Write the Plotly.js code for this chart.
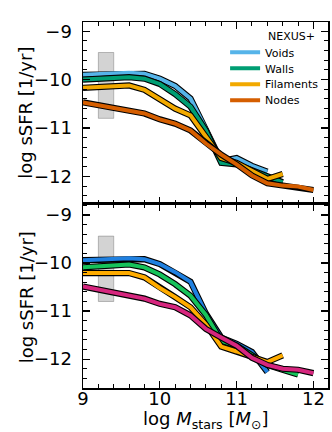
<!DOCTYPE html>
<html><head><meta charset="utf-8">
<script src="https://cdn.plot.ly/plotly-3.0.1.min.js"></script>
<style>html,body{margin:0;padding:0;background:#fff}#chart{width:332px;height:432px}</style>
</head><body><div id="chart"></div>
<script>
const logMass = [9.0, 9.2, 9.4, 9.6, 9.8, 10.0, 10.2, 10.4, 10.6, 10.8, 11.0, 11.2, 11.4, 11.6, 11.8, 12.0];
const seriesNames = ["Voids", "Walls", "Filaments", "Nodes"];

// Top panel
const voidsTop     = [-9.90, -9.89, -9.88, -9.86, -9.88, -9.98, -10.13, -10.39, -11.02, -11.68, -11.62, -11.78, -11.90];
const wallsTop     = [-10.00, -9.98, -9.96, -9.95, -9.98, -10.09, -10.30, -10.56, -11.05, -11.72, -11.75, -11.88, -12.00, -12.12];
const filamentsTop = [-10.17, -10.15, -10.13, -10.12, -10.21, -10.40, -10.60, -10.74, -11.18, -11.62, -11.72, -11.88, -12.05, -11.95];
const nodesTop     = [-10.47, -10.53, -10.58, -10.64, -10.70, -10.82, -10.91, -11.05, -11.32, -11.55, -11.75, -11.98, -12.14, -12.19, -12.21, -12.28];

// Bottom panel
const voidsBot     = [-9.94, -9.93, -9.91, -9.90, -9.92, -10.02, -10.19, -10.39, -11.05, -11.55, -11.68, -11.85, -12.27];
const wallsBot     = [-10.09, -10.07, -10.05, -10.03, -10.09, -10.24, -10.44, -10.68, -11.08, -11.62, -11.72, -11.92, -12.12, -12.22, -12.32];
const filamentsBot = [-10.21, -10.21, -10.21, -10.21, -10.30, -10.52, -10.71, -10.92, -11.28, -11.74, -11.84, -11.96, -12.06, -11.92];
const nodesBot     = [-10.49, -10.55, -10.61, -10.66, -10.74, -10.85, -10.92, -11.09, -11.37, -11.55, -11.72, -11.97, -12.12, -12.20, -12.22, -12.29];

const colorsTop = ["#56B4E9", "#009E73", "#F2A900", "#D55E00"];
const colorsBot = ["#1F80E0", "#16C35A", "#FFAC00", "#D6267E"];

const bandX = [9.2, 9.4];
const bandY = [-10.80, -9.44];

const xTicks = [9, 10, 11, 12];

const FONT = "DejaVu Sans, Arial, sans-serif";
const legendIds = ["legend", "legend2", "legend3", "legend4"];
const traces = [];
function addPanel(seriesList, colors, xa, ya, legend) {
  seriesList.forEach((ys, i) => {
    const xs = logMass.slice(0, ys.length);
    traces.push({x: xs, y: ys, xaxis: xa, yaxis: ya, mode: "lines", type: "scatter",
      line: {color: "black", width: 6.2}, showlegend: false, hoverinfo: "skip"});
    traces.push({x: xs, y: ys, xaxis: xa, yaxis: ya, mode: "lines", type: "scatter",
      name: seriesNames[i], line: {color: colors[i], width: 4}, showlegend: legend,
      legend: legendIds[i]});
  });
}
addPanel([voidsTop, wallsTop, filamentsTop, nodesTop], colorsTop, "x2", "y", true);
addPanel([voidsBot, wallsBot, filamentsBot, nodesBot], colorsBot, "x", "y2", false);

const axBase = {
  showline: true, linecolor: "black", linewidth: 1.5, mirror: "allticks",
  ticks: "inside", ticklen: 7, tickwidth: 1.2, tickcolor: "black",
  showgrid: false, zeroline: false,
  tickfont: {family: FONT, size: 18, color: "black"},
  minor: {ticks: "inside", ticklen: 4, tickwidth: 1, tickcolor: "black", dtick: 0.2, showgrid: false}
};
const xRange = [9, 12.19];
const legBase = {x: 0.58, xanchor: "left", yanchor: "middle", bgcolor: "rgba(0,0,0,0)",
  font: {family: FONT, size: 11, color: "black"}, itemwidth: 30};
const legCenters = [0.9174, 0.8737, 0.8301, 0.7864];
const yTitle = "log sSFR [1/yr]";
const layout = {
  width: 332, height: 432,
  margin: {l: 83, r: 4, t: 22, b: 44},
  paper_bgcolor: "white", plot_bgcolor: "white",
  font: {family: FONT, color: "black"},
  showlegend: true,
  xaxis: Object.assign({}, axBase, {domain: [0, 1], range: xRange, anchor: "y2", tickmode: "array", tickvals: xTicks,
    ticklabelstandoff: -6}),
  xaxis2: Object.assign({}, axBase, {domain: [0, 1], range: xRange, anchor: "y", tickmode: "array", tickvals: xTicks, showticklabels: false}),
  yaxis: Object.assign({}, axBase, {domain: [0.504, 1], range: [-12.56, -8.81], anchor: "x2", tickmode: "linear", tick0: 0, dtick: 1,
    ticklabelstandoff: 6}),
  yaxis2: Object.assign({}, axBase, {domain: [0, 0.503], range: [-12.6, -8.77], anchor: "x", tickmode: "linear", tick0: 0, dtick: 1,
    ticklabelstandoff: 6}),
  legend: Object.assign({}, legBase, {y: legCenters[0]}),
  legend2: Object.assign({}, legBase, {y: legCenters[1]}),
  legend3: Object.assign({}, legBase, {y: legCenters[2]}),
  legend4: Object.assign({}, legBase, {y: legCenters[3]}),
  shapes: [
    {type: "rect", xref: "x2", yref: "y", x0: bandX[0], x1: bandX[1], y0: bandY[0], y1: bandY[1],
      fillcolor: "rgba(128,128,128,0.35)", line: {color: "rgba(110,110,110,0.45)", width: 1}, layer: "below"},
    {type: "rect", xref: "x", yref: "y2", x0: bandX[0], x1: bandX[1], y0: bandY[0], y1: bandY[1],
      fillcolor: "rgba(128,128,128,0.35)", line: {color: "rgba(110,110,110,0.45)", width: 1}, layer: "below"}
  ],
  annotations: [
    {text: "NEXUS+", xref: "paper", yref: "paper", x: 0.745, y: 0.961, xanchor: "left", yanchor: "middle",
      showarrow: false, font: {family: FONT, size: 11, color: "black"}},
    {text: "log <i>M</i><sub>stars</sub> [<i>M</i><sub>⊙</sub>]", xref: "paper", yref: "paper", x: 0.5, y: -0.088,
      xanchor: "center", yanchor: "middle", height: 22, borderpad: 0, valign: "middle",
      showarrow: false, font: {family: FONT, size: 18, color: "black"}},
    {text: yTitle, xref: "paper", yref: "paper", x: -0.2327, y: 0.752, textangle: -90,
      xanchor: "center", yanchor: "middle", showarrow: false, font: {family: FONT, size: 18, color: "black"}},
    {text: yTitle, xref: "paper", yref: "paper", x: -0.2327, y: 0.2477, textangle: -90,
      xanchor: "center", yanchor: "middle", showarrow: false, font: {family: FONT, size: 18, color: "black"}}
  ]
};
Plotly.newPlot("chart", traces, layout, {staticPlot: true, displayModeBar: false});
</script>
</body></html>
